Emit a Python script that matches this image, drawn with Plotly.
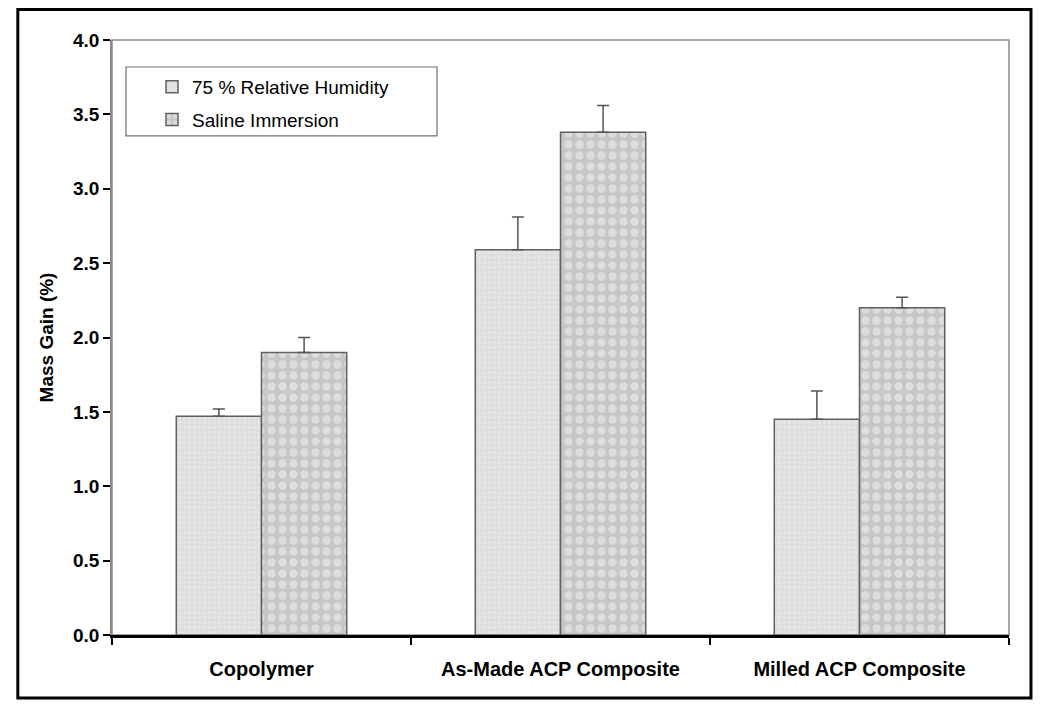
import plotly.graph_objects as go

# Mass gain data
categories = ["Copolymer", "As-Made ACP Composite", "Milled ACP Composite"]
humidity = [1.47, 2.59, 1.45]
humidity_err = [0.05, 0.22, 0.19]
saline = [1.90, 3.38, 2.20]
saline_err = [0.10, 0.18, 0.07]
y_ticks = [0.0, 0.5, 1.0, 1.5, 2.0, 2.5, 3.0, 3.5, 4.0]

FONT = "Liberation Sans, Arial, sans-serif"

fig = go.Figure()

fig.add_trace(go.Bar(
    x=categories, y=humidity, name="75 % Relative Humidity", legendgroup="a",
    marker=dict(color="#e3e3e3", line=dict(color="#606060", width=1.5),
                pattern=dict(shape=".", fgcolor="#efefef", bgcolor="#dedede",
                             size=5, solidity=0.3)),
    error_y=dict(type="data", array=humidity_err, symmetric=False,
                 arrayminus=[0, 0, 0], color="#555555", thickness=1.5, width=6),
))

fig.add_trace(go.Bar(
    x=categories, y=saline, name="Saline Immersion", legendgroup="b",
    marker=dict(color="#cdcdcd", line=dict(color="#606060", width=1.5),
                pattern=dict(shape=".", fgcolor="#f4f4f4", bgcolor="#c6c6c6",
                             size=11, solidity=0.45)),
    error_y=dict(type="data", array=saline_err, symmetric=False,
                 arrayminus=[0, 0, 0], color="#555555", thickness=1.5, width=6),
))

# plot area frame (grey), legend frame and outer black border
fig.add_shape(type="rect", xref="paper", yref="paper", x0=0, x1=1, y0=0, y1=1,
              line=dict(color="#8a8a8a", width=1.5), layer="below")
fig.add_shape(type="rect", xref="paper", yref="paper",
              x0=0.0156, x1=0.3623, y0=0.8387, y1=0.9546,
              line=dict(color="#707070", width=1.2), fillcolor="white",
              layer="below")
fig.add_shape(type="rect", xref="paper", yref="paper",
              x0=-0.105, x1=1.0245, y0=-0.106, y1=1.0513,
              line=dict(color="black", width=3))

fig.update_layout(
    width=1042, height=705,
    margin=dict(l=104, r=41, t=32, b=78),
    paper_bgcolor="white", plot_bgcolor="white",
    barmode="group", bargap=0.43, bargroupgap=0,
    font=dict(family=FONT, color="black"),
    showlegend=True,
    legend=dict(x=0.0446, y=0.953, xanchor="left", yanchor="top",
                borderwidth=0, bgcolor="rgba(0,0,0,0)",
                font=dict(size=19, family=FONT), itemwidth=30,
                traceorder="grouped", tracegroupgap=5),
    xaxis=dict(showline=True, linecolor="black", linewidth=2.5,
               ticks="outside", tickson="boundaries", ticklen=7,
               tickwidth=2, tickcolor="black", ticklabelstandoff=14,
               tickfont=dict(size=20, family=FONT, weight="bold"),
               showgrid=False, fixedrange=True),
    yaxis=dict(range=[0, 4], tickvals=y_ticks, tickformat=".1f",
               showline=True, linecolor="#8a8a8a", linewidth=1.5,
               ticks="outside", ticklen=7, tickwidth=2, tickcolor="black",
               tickfont=dict(size=19, family=FONT, weight="bold"),
               showgrid=False, zeroline=False,
               title=dict(text="Mass Gain (%)", standoff=14,
                          font=dict(size=19, family=FONT, weight="bold"))),
)

fig.write_html("out.html")
